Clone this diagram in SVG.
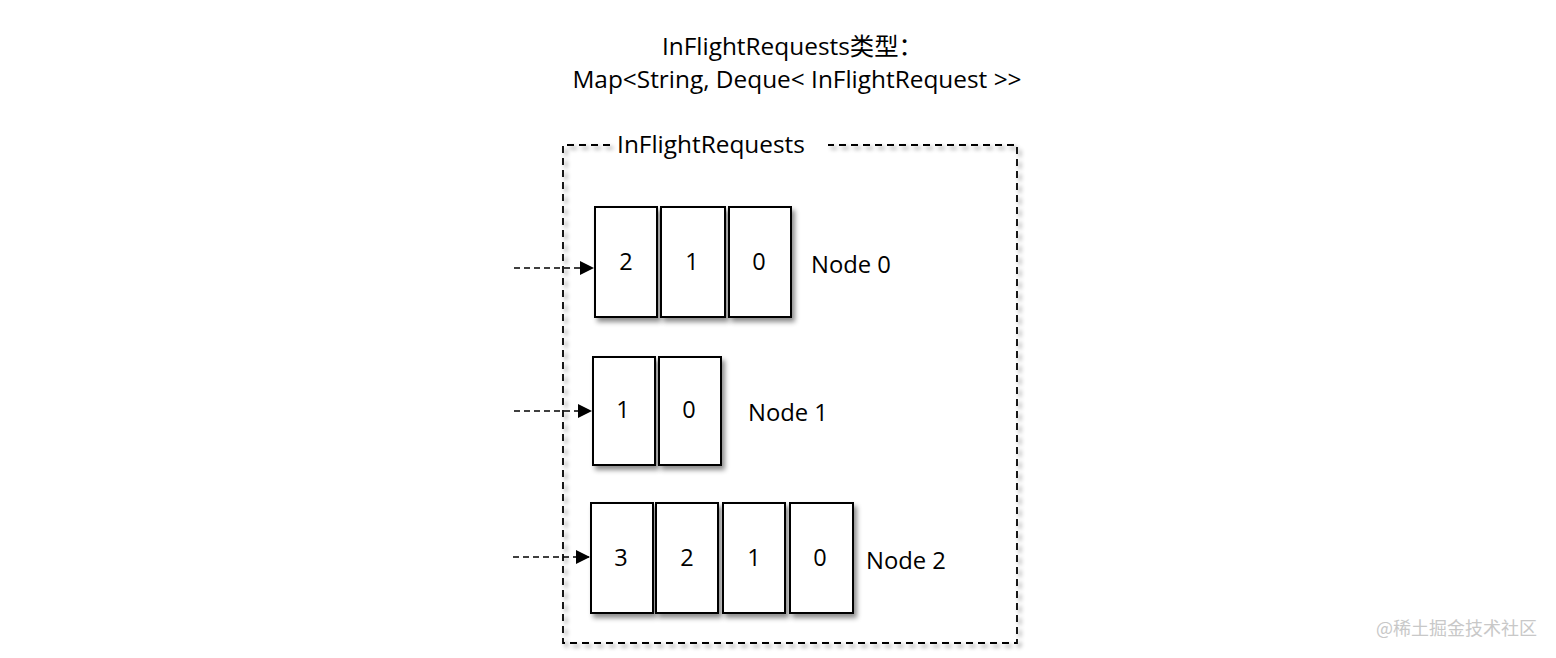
<svg xmlns="http://www.w3.org/2000/svg" width="1556" height="658" viewBox="0 0 1556 658">
<defs>
<style>
.t{font-family:"Open Sans","Liberation Sans","Noto Sans CJK SC",sans-serif;fill:#000}
.title{font-size:24.4px}
.lbl{font-size:23.8px}
.num{font-size:23.5px;text-anchor:middle}
.cell{fill:#fff;stroke:#000;stroke-width:2;filter:url(#sh)}
.conn{stroke:#000;stroke-width:1.6;stroke-dasharray:6 4;fill:none}
.wm{font-family:"Noto Sans CJK SC","Liberation Sans",sans-serif;font-size:18px;fill:#c8c8c8}
</style>
<filter id="sh" x="-20%" y="-20%" width="150%" height="150%">
<feDropShadow dx="3" dy="4" stdDeviation="2.5" flood-color="#000" flood-opacity="0.45"/>
</filter>
<filter id="sh2" x="-5%" y="-5%" width="110%" height="110%">
<feDropShadow dx="3" dy="3" stdDeviation="2" flood-color="#000" flood-opacity="0.45"/>
</filter>
<marker id="ah" markerWidth="14" markerHeight="14" refX="14" refY="7" orient="auto" markerUnits="userSpaceOnUse">
<path d="M0,0 L14,7 L0,14 z" fill="#000"/>
</marker>
</defs>
<rect width="1556" height="658" fill="#fff"/>
<g id="title">
<text class="t title" x="662" y="55">InFlightRequests类型：</text>
<text class="t title" x="797" y="88" text-anchor="middle">Map&lt;String, Deque&lt; InFlightRequest &gt;&gt;</text>
</g>
<g id="container">
<path d="M610,145 H563 V643 H1017 V145 H828" fill="none" stroke="#000" stroke-width="1.8" stroke-dasharray="7 5" filter="url(#sh2)"/>
<text class="t lbl" x="711" y="153" text-anchor="middle" style="font-size:24.4px">InFlightRequests</text>
</g>
<g id="connectors">
<line class="conn" x1="514" y1="268" x2="594" y2="268" marker-end="url(#ah)"/>
<line class="conn" x1="514" y1="411" x2="592" y2="411" marker-end="url(#ah)"/>
<line class="conn" x1="513" y1="557" x2="590" y2="557" marker-end="url(#ah)"/>
</g>
<g id="node0">
<rect class="cell" x="595" y="207" width="62" height="110"/>
<rect class="cell" x="661" y="207" width="64" height="110"/>
<rect class="cell" x="729" y="207" width="62" height="110"/>
<text class="t num" x="626" y="270">2</text>
<text class="t num" x="692" y="270">1</text>
<text class="t num" x="759" y="270">0</text>
<text class="t lbl" x="811" y="273">Node 0</text>
</g>
<g id="node1">
<rect class="cell" x="593" y="357" width="62" height="108"/>
<rect class="cell" x="659" y="357" width="62" height="108"/>
<text class="t num" x="623" y="418">1</text>
<text class="t num" x="689" y="418">0</text>
<text class="t lbl" x="748" y="421">Node 1</text>
</g>
<g id="node2">
<rect class="cell" x="591" y="503" width="62" height="110"/>
<rect class="cell" x="656" y="503" width="62" height="110"/>
<rect class="cell" x="723" y="503" width="62" height="110"/>
<rect class="cell" x="790" y="503" width="63" height="110"/>
<text class="t num" x="621" y="566">3</text>
<text class="t num" x="687" y="566">2</text>
<text class="t num" x="754" y="566">1</text>
<text class="t num" x="820" y="566">0</text>
<text class="t lbl" x="866" y="569">Node 2</text>
</g>
<text class="wm" x="1376" y="635">@稀土掘金技术社区</text>
</svg>
